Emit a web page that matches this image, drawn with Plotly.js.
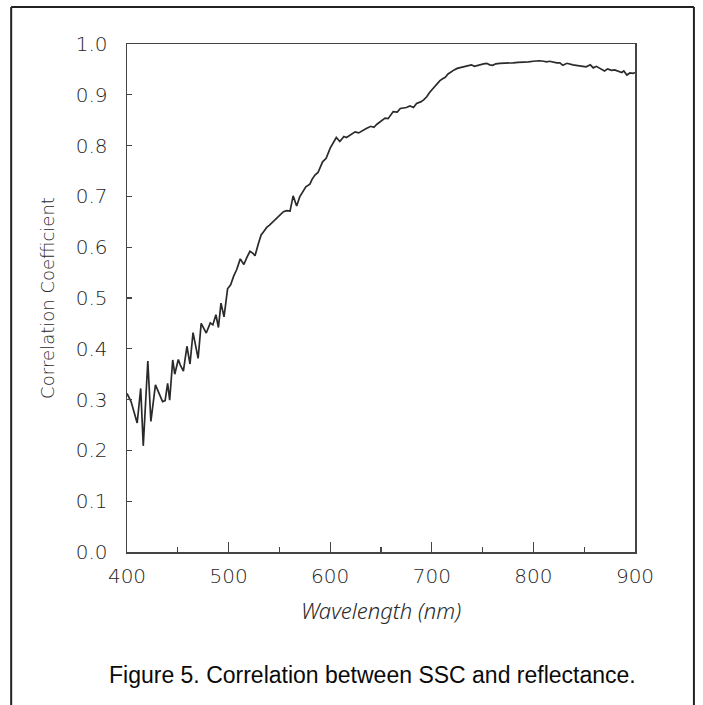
<!DOCTYPE html>
<html>
<head>
<meta charset="utf-8">
<script src="https://cdn.plot.ly/plotly-3.0.1.min.js"></script>
<style>html,body{margin:0;padding:0;background:#fff;}#chart{width:703px;height:705px;}</style>
</head>
<body>
<div id="chart"></div>
<script>
const wavelength = [400,404,407,410,413.5,416,420.5,423.5,428,432,435,437.5,440,442,445,447,450.5,452.5,455.5,459,462,465,468,470,473,475,478,482,484.5,487.5,490,492.5,495.5,499,502,505,508,511.5,515,518,521,524,526,529,532,535,537.5,540,542.5,545,549,551,554,557,560.5,563.5,567,570,573,576,580,582,585,588,592.5,596,600,603,606,609.5,613.5,616,619.5,622,624.5,628,632.5,636,640,643,646,649,652,654,657,660,662,666,669,672,675,678.5,682,685,689,692,695,698,701.5,705,708,711,713,716,718,722,725,728,731,735,739,742,745,748,751,754,757,760,763,767,771,775,780,785,790,795,800,806,810,813,816,820,823,826,829,833,836,839,842,846,849,852,856,859,862,865,868,870,873,877,880,883,887,889,892,895,898,900];
const correlation = [0.312,0.296,0.275,0.254,0.322,0.209,0.376,0.257,0.329,0.31,0.296,0.298,0.332,0.299,0.378,0.35,0.379,0.368,0.356,0.405,0.37,0.432,0.398,0.381,0.45,0.443,0.431,0.451,0.447,0.467,0.442,0.49,0.463,0.518,0.526,0.543,0.556,0.577,0.566,0.58,0.592,0.588,0.583,0.605,0.624,0.632,0.639,0.643,0.648,0.652,0.661,0.665,0.670,0.672,0.671,0.701,0.681,0.699,0.708,0.719,0.724,0.733,0.742,0.747,0.768,0.775,0.795,0.806,0.816,0.808,0.818,0.816,0.821,0.824,0.827,0.825,0.831,0.834,0.838,0.836,0.842,0.847,0.852,0.854,0.853,0.862,0.867,0.866,0.873,0.874,0.875,0.878,0.875,0.883,0.886,0.89,0.896,0.905,0.913,0.921,0.928,0.932,0.934,0.941,0.944,0.949,0.952,0.954,0.955,0.957,0.959,0.956,0.958,0.96,0.961,0.962,0.959,0.958,0.961,0.962,0.962,0.963,0.963,0.964,0.964,0.965,0.966,0.967,0.966,0.965,0.966,0.964,0.963,0.963,0.958,0.962,0.96,0.959,0.958,0.957,0.956,0.955,0.959,0.953,0.956,0.953,0.95,0.947,0.951,0.948,0.949,0.947,0.944,0.947,0.939,0.943,0.942,0.944];
const xTickValues = [400,500,600,700,800,900];
const yTickValues = [0,0.1,0.2,0.3,0.4,0.5,0.6,0.7,0.8,0.9,1.0];
const xTitle = "Wavelength (nm)";
const yTitle = "Correlation Coefficient";
const caption = "Figure 5. Correlation between SSC and reflectance.";

const plotFont = "'DejaVu Sans', sans-serif";
const tickFont = {family: plotFont, size: 20, color: "#1e1e1e", weight: 200};

const trace = {
  x: wavelength, y: correlation, type: "scatter", mode: "lines",
  line: {color: "#2a2a2a", width: 1.7}, hoverinfo: "skip"
};

const layout = {
  width: 703, height: 705,
  margin: {l: 127, r: 68, t: 44, b: 153},
  paper_bgcolor: "#ffffff", plot_bgcolor: "#ffffff",
  showlegend: false,
  xaxis: {
    range: [400, 900], tickvals: xTickValues, ticks: "inside", ticklen: 10, tickwidth: 1.3, tickcolor: "#444",
    minor: {dtick: 50, tick0: 400, ticks: "inside", ticklen: 5, tickwidth: 1.3, tickcolor: "#444", showgrid: false},
    showline: true, mirror: true, linecolor: "#444", linewidth: 1.5, showgrid: false, zeroline: false,
    tickfont: tickFont, ticklabelstandoff: 5,
    title: {text: xTitle, font: {family: "'Noto Sans', 'DejaVu Sans', sans-serif", size: 22, color: "#2a2a2a", style: "italic", weight: 300}, standoff: 17},
    automargin: false
  },
  yaxis: {
    range: [0, 1], tickvals: yTickValues, tickformat: ".1f", ticks: "inside", ticklen: 5, tickwidth: 1.3, tickcolor: "#444",
    showline: true, mirror: true, linecolor: "#444", linewidth: 1.5, showgrid: false, zeroline: false,
    tickfont: tickFont, ticklabelstandoff: 14,
    title: {text: yTitle, font: {family: plotFont, size: 18, color: "#2a2a2a", weight: 200}, standoff: 16},
    automargin: false
  },
  shapes: [
    {type: "line", xref: "paper", yref: "paper", x0: -0.228, x1: -0.228, y0: 1.0728, y1: -0.31, line: {color: "#222", width: 2}},
    {type: "line", xref: "paper", yref: "paper", x0: -0.228, x1: 1.116, y0: 1.0728, y1: 1.0728, line: {color: "#222", width: 2}},
    {type: "line", xref: "paper", yref: "paper", x0: 1.116, x1: 1.116, y0: 1.0728, y1: -0.31, line: {color: "#222", width: 2}}
  ],
  annotations: [
    {text: caption, xref: "paper", yref: "paper", x: 0.483, y: -0.243, showarrow: false, xanchor: "center", yanchor: "middle",
     font: {family: "'Liberation Sans', Arial, sans-serif", size: 23, color: "#0a0a0a"}}
  ]
};

Plotly.newPlot("chart", [trace], layout, {displayModeBar: false, staticPlot: true});
</script>
</body>
</html>
